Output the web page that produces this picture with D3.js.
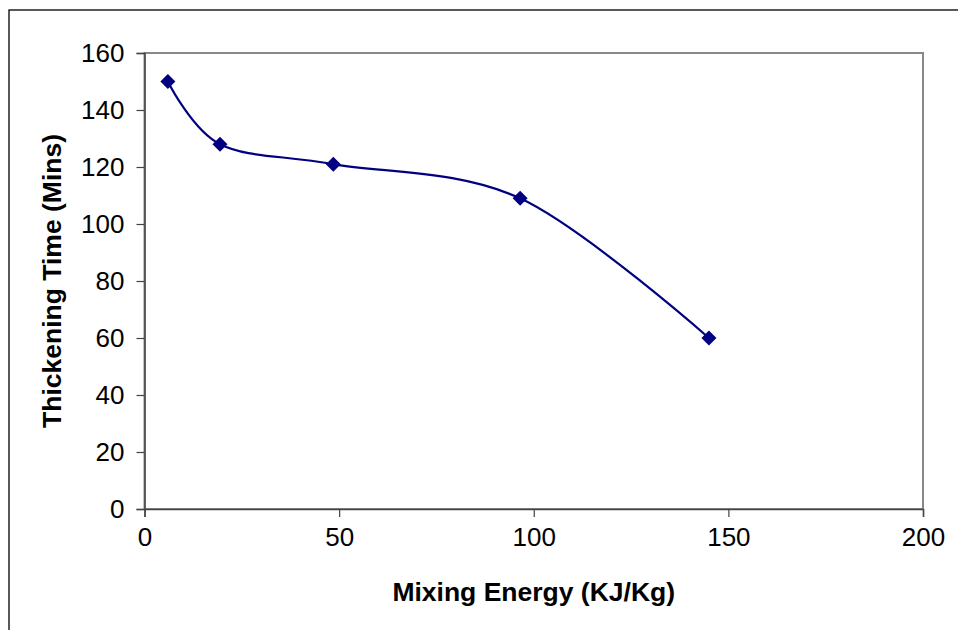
<!DOCTYPE html>
<html>
<head>
<meta charset="utf-8">
<script src="https://cdn.jsdelivr.net/npm/d3@7"></script>
<style>
body { margin: 0; background: #fff; }
svg text { font-family: "Liberation Sans", Arial, sans-serif; }
</style>
</head>
<body>
<div id="chart"></div>
<script>
var energy = [6, 19.4, 48.5, 96.5, 145];
var thickTime = [150, 128, 121, 109, 60];
var xTicks = [0, 50, 100, 150, 200];
var yTicks = [0, 20, 40, 60, 80, 100, 120, 140, 160];

var w = 958;
var h = 630;
var padL = 144.5, padR = 923, padT = 53, padB = 509;

var svg = d3.select("#chart")
    .append("svg")
    .attr("width", w)
    .attr("height", h);

// outer chart border (runs off the right and bottom edges)
svg.append("rect")
    .attr("x", 9)
    .attr("y", 10)
    .attr("width", 1000)
    .attr("height", 700)
    .attr("fill", "none")
    .attr("stroke", "#000")
    .attr("stroke-width", 1.3);

var xscale = d3.scaleLinear()
    .domain([0, 200])
    .range([padL, padR]);

var yscale = d3.scaleLinear()
    .domain([0, 160])
    .range([padB, padT]);

// plot area frame
svg.append("rect")
    .attr("x", padL)
    .attr("y", padT)
    .attr("width", padR - padL)
    .attr("height", padB - padT)
    .attr("fill", "none")
    .attr("stroke", "#888")
    .attr("stroke-width", 2);

var xaxis = d3.axisBottom(xscale).tickValues(xTicks).tickSize(8).tickPadding(11);
var yaxis = d3.axisLeft(yscale).tickValues(yTicks).tickSize(8).tickPadding(12);

var gx = svg.append("g")
    .attr("class", "x axis")
    .attr("transform", "translate(0," + padB + ")")
    .call(xaxis);

var gy = svg.append("g")
    .attr("class", "y axis")
    .attr("transform", "translate(" + padL + ",0)")
    .call(yaxis);

[gx, gy].forEach(function(g) {
    g.select(".domain").attr("stroke", "#444").attr("stroke-width", 1.5);
    g.selectAll(".tick line").attr("stroke", "#444").attr("stroke-width", 1.2);
    g.selectAll(".tick text")
        .attr("font-family", "Liberation Sans, Arial, sans-serif")
        .attr("font-size", "26px")
        .attr("fill", "#000");
});

var pts = energy.map(function(d, i) { return [d, thickTime[i]]; });

var line = d3.line()
    .x(function(d) { return xscale(d[0]); })
    .y(function(d) { return yscale(d[1]); })
    .curve(d3.curveCardinal.tension(0));

svg.append("path")
    .datum(pts)
    .attr("d", line)
    .attr("fill", "none")
    .attr("stroke", "#000080")
    .attr("stroke-width", 2.2);

svg.selectAll(".marker")
    .data(pts)
    .enter()
    .append("path")
    .attr("class", "marker")
    .attr("transform", function(d) {
        return "translate(" + xscale(d[0]) + "," + yscale(d[1]) + ")";
    })
    .attr("d", "M0,-7.5L7.5,0L0,7.5L-7.5,0Z")
    .attr("fill", "#000080");

svg.append("text")
    .attr("x", (padL + padR) / 2)
    .attr("y", 601)
    .attr("text-anchor", "middle")
    .attr("font-size", "26.5px")
    .attr("font-weight", "bold")
    .text("Mixing Energy (KJ/Kg)");

svg.append("text")
    .attr("transform", "translate(61," + ((padT + padB) / 2) + ") rotate(-90)")
    .attr("text-anchor", "middle")
    .attr("font-size", "26.5px")
    .attr("font-weight", "bold")
    .text("Thickening Time (Mins)");
</script>
</body>
</html>
